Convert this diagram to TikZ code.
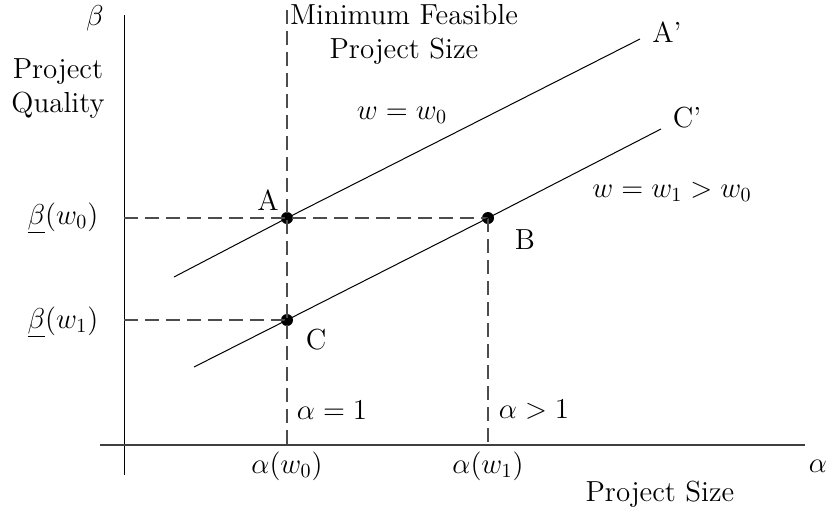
\documentclass[tikz,border=0pt]{standalone}
\usepackage{tikz}
\usetikzlibrary{positioning}

\begin{document}
\begin{tikzpicture}[
  x=0.5pt, y=-0.5pt,
  txt/.style={inner sep=1pt, font=\fontsize{14.5}{17}\selectfont, align=center},
  axis/.style={line width=0.6pt, black!75},
  guide/.style={line width=0.6pt, black!70, dash pattern=on 7pt off 3.5pt},
  budget/.style={line width=0.5pt, black},
  pt/.style={circle, fill=black, inner sep=0pt, minimum size=6pt}
]
\useasboundingbox (0,0) rectangle (830,510);

% Axes
\coordinate (ytop) at (124,15);
\coordinate (ybot) at (124,475);
\coordinate (xleft) at (100,445);
\coordinate (xright) at (805,445);
\draw[line width=0.5pt] (ybot) -- (ytop);
\draw[axis] (xleft) -- (xright);

% Points
\node[pt] (A) at (287,218) {};
\node[pt] (B) at (488,218) {};
\node[pt] (C) at (287,320) {};

% Guide lines
\coordinate (mtop) at (287,10);
\coordinate (a0) at (287,445);
\coordinate (a1) at (488,445);
\coordinate (b0) at (124,218);
\coordinate (b1) at (124,320);
\draw[guide] (mtop) -- (a0);
\draw[guide] (B.center) -- (a1);
\draw[guide] (b0) -- (B.center);
\draw[guide] (b1) -- (C.center);

% Iso-wage lines
\coordinate (Astart) at (174,277);
\coordinate (Aend) at (640,39);
\coordinate (Cstart) at (194,367);
\coordinate (Cend) at (661,129);
\draw[budget] (Astart) -- (A.center) -- (Aend);
\draw[budget] (Cstart) -- (C.center) -- (B.center) -- (Cend);

% Labels
\node[txt] (ybeta) at (95,18) {$\beta$};
\node[txt] (yname) at (58,89) {Project\\Quality};
\node[txt] (xalpha) at (818,466) {$\alpha$};
\node[txt] (xname) at (660,494) {Project Size};
\node[txt, anchor=north] (mfps) at (404,2) {Minimum Feasible\\Project Size};
\node[txt] (labA) at (268,200) {A};
\node[txt] (labB) at (525,240) {B};
\node[txt] (labC) at (316,340) {C};
\node[txt] (labA2) at (667,32) {A'};
\node[txt] (labC2) at (687,118) {C'};
\node[txt] (w0) at (402,115) {$w = w_0$};
\node[txt] (w1) at (672,192) {$w = w_1 > w_0$};
\node[txt] (beta0) at (63,218) {$\underline{\beta}(w_0)$};
\node[txt] (beta1) at (63,322) {$\underline{\beta}(w_1)$};
\node[txt] (aone) at (332,410) {$\alpha = 1$};
\node[txt] (amore) at (534,410) {$\alpha > 1$};
\node[txt] (alpha0) at (287,466) {$\alpha(w_0)$};
\node[txt] (alpha1) at (488,466) {$\alpha(w_1)$};
\end{tikzpicture}
\end{document}
